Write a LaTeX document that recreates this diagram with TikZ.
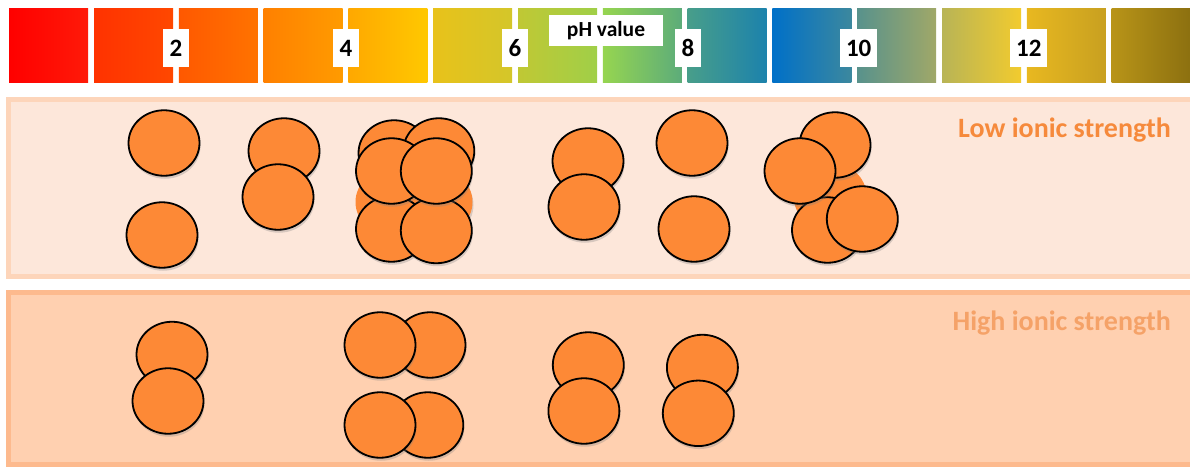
\documentclass[tikz,border=0pt]{standalone}
\usepackage{fontspec}
\setmainfont{Carlito}
\usetikzlibrary{shapes.geometric,shadows}
\definecolor{ph1a}{RGB}{255,0,0}     \definecolor{ph1b}{RGB}{255,26,8}
\definecolor{ph2a}{RGB}{255,50,0}    \definecolor{ph2b}{RGB}{255,72,0}
\definecolor{ph3a}{RGB}{255,88,0}    \definecolor{ph3b}{RGB}{255,115,0}
\definecolor{ph4a}{RGB}{255,128,0}   \definecolor{ph4b}{RGB}{255,155,0}
\definecolor{ph5a}{RGB}{255,168,0}   \definecolor{ph5b}{RGB}{255,200,0}
\definecolor{ph6a}{RGB}{232,194,26}  \definecolor{ph6b}{RGB}{212,198,42}
\definecolor{ph7a}{RGB}{192,200,52}  \definecolor{ph7b}{RGB}{160,207,72}
\definecolor{ph8a}{RGB}{150,213,80}  \definecolor{ph8b}{RGB}{92,172,122}
\definecolor{ph9a}{RGB}{72,158,138}  \definecolor{ph9b}{RGB}{28,130,172}
\definecolor{ph10a}{RGB}{0,112,200}  \definecolor{ph10b}{RGB}{60,136,158}
\definecolor{ph11a}{RGB}{88,146,140} \definecolor{ph11b}{RGB}{160,168,104}
\definecolor{ph12a}{RGB}{184,180,86} \definecolor{ph12b}{RGB}{242,203,46}
\definecolor{ph13a}{RGB}{232,184,32} \definecolor{ph13b}{RGB}{200,160,32}
\definecolor{ph14a}{RGB}{184,148,24} \definecolor{ph14b}{RGB}{140,112,16}
\definecolor{ballorange}{RGB}{253,137,54}
\definecolor{lowfill}{RGB}{253,231,218}
\definecolor{lowedge}{RGB}{253,213,186}
\definecolor{highfill}{RGB}{255,208,176}
\definecolor{highedge}{RGB}{253,186,142}
\definecolor{lowtext}{RGB}{246,138,60}
\definecolor{hightext}{RGB}{245,162,104}

\begin{document}
\begin{tikzpicture}[x=1pt,y=-1pt]
		\tikzstyle{particle}=[ellipse,draw=black,line width=1.8pt,fill=ballorange,minimum width=71pt,minimum height=65.5pt,inner sep=0pt,drop shadow={shadow xshift=1pt,shadow yshift=-3pt,opacity=0.3}]
		\tikzstyle{blob}=[ellipse,fill=ballorange,minimum width=73pt,minimum height=67pt,inner sep=0pt,drop shadow={shadow xshift=1pt,shadow yshift=-3pt,opacity=0.3}]
		\tikzstyle{phlabel}=[fill=white,inner xsep=6pt,minimum width=26pt,minimum height=37.7pt,font=\fontsize{25}{25}\selectfont\bfseries]
		\tikzstyle{panellabel}=[anchor=east,inner sep=0pt,font=\fontsize{28}{28}\selectfont\bfseries]
		\useasboundingbox (0,0) rectangle (1190,468);
		% pH scale
		\foreach \i in {1,...,14}
			\shade[left color=ph\i a,right color=ph\i b] ({9.2+84.8*(\i-1)},8.3) rectangle +(79,74);
		\node[phlabel] (ph2) at (176,48) {2};
		\node[phlabel] (ph4) at (346,48) {4};
		\node[phlabel] (ph6) at (515,48) {6};
		\node[phlabel] (ph8) at (688,48) {8};
		\node[phlabel] (ph10) at (858.7,48) {10};
		\node[phlabel] (ph12) at (1028.8,48) {12};
		\node[fill=white,minimum width=114pt,minimum height=30.7pt,inner sep=0pt,font=\fontsize{21.5}{21.5}\selectfont\bfseries] (phname) at (606,30.3) {pH value};
		% panels
		\draw[line width=5pt,draw=lowedge,fill=lowfill] (8.5,99.8) rectangle (1200,276.5);
		\draw[line width=5pt,draw=highedge,fill=highfill] (8.5,292.8) rectangle (1200,464.5);
		\node[panellabel,text=lowtext] (low) at (1171,130) {Low ionic strength};
		\node[panellabel,text=hightext] (high) at (1171,323) {High ionic strength};
		% low ionic strength
		\node[particle] (la1) at (164,143) {};
		\node[particle] (la2) at (162,235) {};
		\node[particle] (lb1) at (284,151) {};
		\node[particle] (lb2) at (278,197) {};
		\node[blob] (lcx) at (392,202) {};
		\node[blob] (lcy) at (436,202) {};
		\node[particle] (lc1) at (391.5,229) {};
		\node[particle] (lc2) at (436.3,230.5) {};
		\node[particle] (lc3) at (394,153) {};
		\node[particle] (lc4) at (438.8,151) {};
		\node[particle] (lc5) at (391.5,171) {};
		\node[particle] (lc6) at (436.3,171) {};
		\node[particle] (ld1) at (588,161) {};
		\node[particle] (ld2) at (584,207) {};
		\node[particle] (le1) at (692,143) {};
		\node[particle] (le2) at (694,229) {};
		\node[blob] (lfx) at (830,196) {};
		\node[particle] (lf1) at (827.5,230) {};
		\node[particle] (lf2) at (835,145) {};
		\node[particle] (lf3) at (800,171) {};
		\node[particle] (lf4) at (862.3,219) {};
		% high ionic strength
		\node[particle] (ha1) at (172,354.5) {};
		\node[particle] (ha2) at (168,401) {};
		\node[particle] (hc1) at (430,345) {};
		\node[particle] (hc2) at (380,345) {};
		\node[particle] (hc3) at (427.8,425) {};
		\node[particle] (hc4) at (380,425) {};
		\node[particle] (hd1) at (588.3,365) {};
		\node[particle] (hd2) at (583.9,411) {};
		\node[particle] (he1) at (702.4,367.5) {};
		\node[particle] (he2) at (698.3,413.3) {};
\end{tikzpicture}
\end{document}
